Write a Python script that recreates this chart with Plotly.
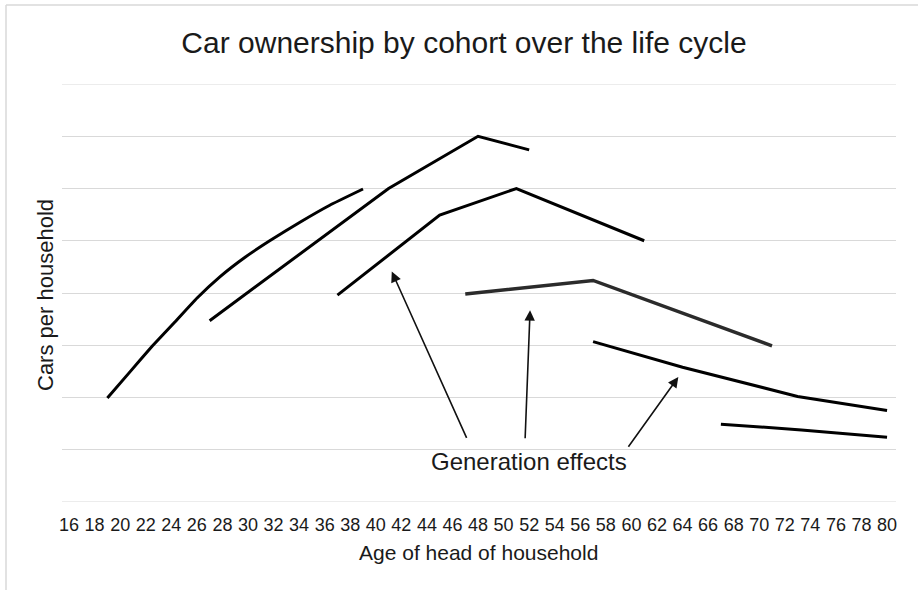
import plotly.graph_objects as go

# Age ticks
tick_ages = list(range(16, 82, 2))

# Cohort curves (age of head of household, cars per household - relative units)
c1_age = [19, 20.8, 22.5, 24.3, 26, 27.8, 29.8, 31.7, 34.1, 36.4, 39]
c1_val = [1.99, 2.50, 2.98, 3.45, 3.90, 4.31, 4.69, 5.0, 5.36, 5.68, 5.99]

c2_age = [27, 41, 48, 52]
c2_val = [3.47, 6.0, 7.0, 6.74]

c3_age = [37, 45, 51, 61]
c3_val = [3.96, 5.49, 6.0, 5.0]

c4_age = [47, 52, 57, 71]
c4_val = [3.98, 4.11, 4.24, 2.99]

c5_age = [57, 64, 73, 80]
c5_val = [3.07, 2.58, 2.02, 1.75]

c6_age = [67, 73.3, 80]
c6_val = [1.49, 1.38, 1.24]

# Callout arrows: (head age, head value, tail age, tail value)
arrows = [
    (41.25, 4.41, 47.16, 1.20),
    (52.07, 3.67, 51.68, 1.19),
    (63.67, 2.39, 59.68, 1.03),
]
callout_text = "Generation effects"
callout_pos = (51.95, 0.77)

y_grid = list(range(0, 9))

cohorts = [
    (c1_age, c1_val, "#000000", 3, "spline"),
    (c2_age, c2_val, "#000000", 3, "linear"),
    (c3_age, c3_val, "#000000", 3, "linear"),
    (c4_age, c4_val, "#2b2b2b", 3.5, "linear"),
    (c5_age, c5_val, "#000000", 3, "linear"),
    (c6_age, c6_val, "#000000", 3, "linear"),
]

FONT = "Liberation Sans, Arial, sans-serif"
TXT = "#1a1a1a"

fig = go.Figure()
for ages, vals, col, w, shp in cohorts:
    fig.add_trace(go.Scatter(
        x=ages, y=vals, mode="lines",
        line=dict(color=col, width=w, shape=shp, smoothing=0.3),
        showlegend=False, hoverinfo="skip",
    ))

L, R, T, B = 62, 22, 84, 88
pw = 918 - L - R
ph = 590 - T - B

def px2paper_x(px):
    return (px - L) / pw

def px2paper_y(py):
    return (590 - B - py) / ph

annots = []
for hx, hy, tx, ty in arrows:
    annots.append(dict(
        x=hx, y=hy, ax=tx, ay=ty, xref="x", yref="y", axref="x", ayref="y",
        text="", showarrow=True, arrowhead=2, arrowsize=1.3, arrowwidth=1.6,
        arrowcolor="#111111",
    ))
annots.append(dict(
    x=callout_pos[0], y=callout_pos[1], xref="x", yref="y", text=callout_text,
    showarrow=False, font=dict(family=FONT, size=24, color=TXT),
    xanchor="center", yanchor="middle",
))
annots.append(dict(
    x=px2paper_x(45), y=px2paper_y(295), xref="paper", yref="paper",
    text="Cars per household", textangle=-90, showarrow=False,
    font=dict(family=FONT, size=22, color=TXT), xanchor="center", yanchor="middle",
))
annots.append(dict(
    x=px2paper_x(478), y=px2paper_y(552), xref="paper", yref="paper",
    text="Age of head of household", showarrow=False,
    font=dict(family=FONT, size=21, color=TXT), xanchor="center", yanchor="middle",
))

shapes = [
    dict(type="line", xref="paper", yref="paper",
         x0=px2paper_x(6), x1=px2paper_x(6), y0=px2paper_y(5), y1=px2paper_y(590),
         line=dict(color="#d9d9d9", width=1.5)),
    dict(type="line", xref="paper", yref="paper",
         x0=px2paper_x(6), x1=px2paper_x(918), y0=px2paper_y(5), y1=px2paper_y(5),
         line=dict(color="#d9d9d9", width=1.5)),
]
for g in (y_grid[0], y_grid[-1]):
    shapes.append(dict(type="line", xref="paper", yref="y", x0=0, x1=1, y0=g, y1=g,
                       layer="below", line=dict(color="#d9d9d9", width=1.2)))

fig.update_layout(
    width=918, height=590,
    margin=dict(l=L, r=R, t=T, b=B, autoexpand=False),
    paper_bgcolor="white", plot_bgcolor="white",
    title=dict(text="Car ownership by cohort over the life cycle",
               x=464/918, xanchor="center", y=1-42/590, yanchor="middle",
               font=dict(family=FONT, size=30, color=TXT)),
    annotations=annots,
    shapes=shapes,
    xaxis=dict(
        range=[15.45, 80.7], tickmode="array", tickvals=tick_ages,
        ticktext=[str(a) for a in tick_ages], automargin=False,
        showgrid=False, zeroline=False, showline=False, ticks="",
        tickfont=dict(family=FONT, size=18, color=TXT),
        ticklabelstandoff=10,
    ),
    yaxis=dict(
        range=[0, 8], tickmode="array", tickvals=y_grid,
        showticklabels=False, automargin=False,
        showgrid=True, gridcolor="#d9d9d9", gridwidth=1.2,
        zeroline=False, showline=False, ticks="",
    ),
)

fig.write_html("out.html", config={"displayModeBar": False},
               post_script="document.body.style.margin='0';")
